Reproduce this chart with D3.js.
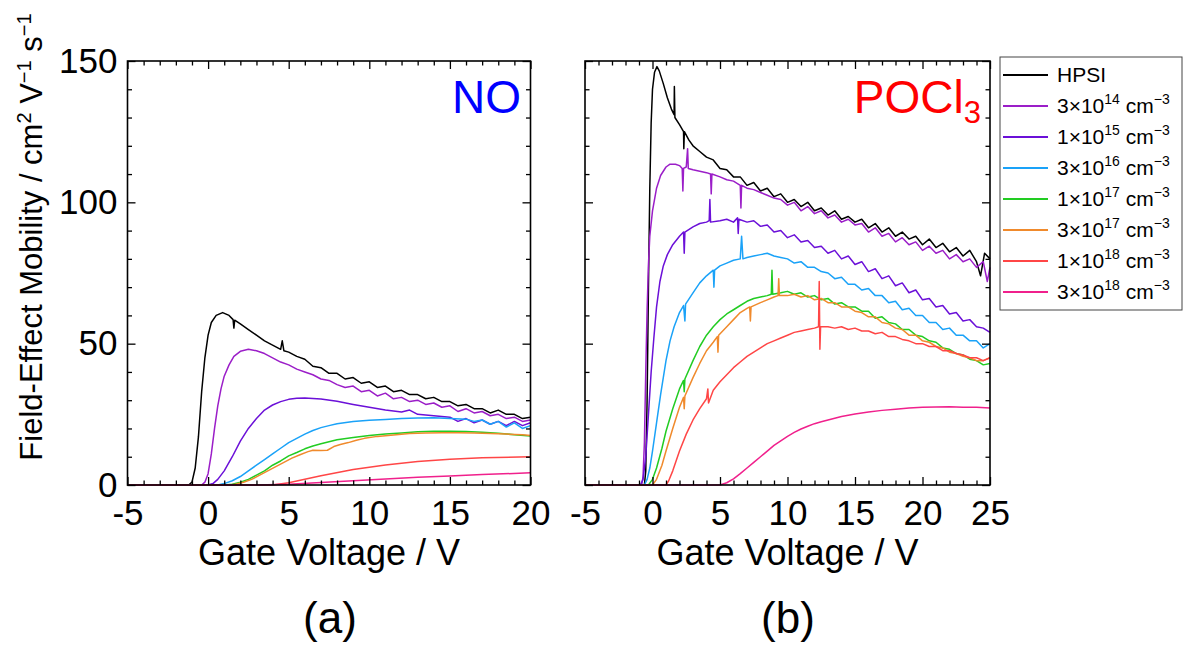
<!DOCTYPE html>
<html>
<head>
<meta charset="utf-8">
<title>mobility</title>
<style>
  body{margin:0;background:#fff;}
  text{font-family:"Liberation Sans",Arial,sans-serif;fill:#000;}
  .curve{fill:none;stroke-width:1.5;stroke-linejoin:round;}
  .axis path{display:none;}
  .axis line{stroke:#000;stroke-width:1.3;}
  .frame{fill:none;stroke:#000;stroke-width:1.6;}
</style>
<script src="https://d3js.org/d3.v7.min.js"></script>
</head>
<body>
<svg width="1187" height="648"></svg>
<script>

// legend entries (same order in both panels)
var legendBase = ["HPSI","3×10","1×10","3×10","1×10","3×10","1×10","3×10"];
var legendExp  = [null,"14","15","16","17","17","18","18"];
var colors = ["#000000","#9b1ec8","#6b10d8","#1aa2f8","#22cc22","#f08a2c","#ff4646","#f0208c"];

var yTicks = [0,50,100,150];

// (a) NO anneal: [gate voltage V, mobility]
var noHPSI = [[-5,0],[-1.2,0],[-1.0,1],[-0.8,6],[-0.6,17],[-0.4,33],[-0.2,45],[0,53],[0.2,57.5],[0.5,60],[0.9,61],[1.3,60],[1.55,58.5],[1.6,55.5],[1.65,58.3],[2,57],[2.5,55],[3,53],[3.5,51],[4,49.5],[4.5,48],[4.6,51],[4.7,47.5],[5,47],[5.5,45.5],[6,44.5],[6.5,42],[7,41.5],[7.5,39.5],[8,39.5],[8.5,37.5],[9,38],[9.5,36],[10,36.5],[10.5,34.5],[11,35],[11.5,33],[12,33.5],[12.5,32],[13,32],[13.5,30.5],[14,31],[14.5,29.5],[15,29.5],[15.5,28],[16,28.5],[16.5,27],[17,27],[17.5,25.5],[18,26.5],[18.5,25],[19,25],[19.5,23.5],[20,24]];
var no3e14 = [[-5,0],[-0.4,0],[-0.2,1],[0,4],[0.2,11],[0.4,20],[0.6,28],[0.8,34],[1,38.5],[1.3,42.5],[1.6,45.5],[2,47.3],[2.5,48],[3,47.5],[3.5,46.5],[4,45],[4.5,43.5],[5,42.5],[5.5,41],[6,40],[6.5,39],[7,37.5],[7.5,37],[8,35.5],[8.5,34.5],[9,35],[9.5,33],[10,33.5],[10.5,31.5],[11,32.5],[11.5,30.5],[12,31],[12.5,29.5],[13,30],[13.5,28.5],[14,29],[14.5,27.5],[15,28],[15.5,26],[16,27],[16.5,25.5],[17,26],[17.5,24.5],[18,25],[18.5,23.5],[19,24],[19.5,22.5],[20,23]];
var no1e15 = [[-5,0],[0,0],[0.3,0.5],[0.6,2],[1,5],[1.5,10],[2,15.5],[2.5,20],[3,23.5],[3.5,26.5],[4,28.3],[4.5,29.5],[5,30.3],[5.5,30.7],[6,30.8],[7,30.4],[8,29.6],[9,28.5],[10,27.5],[11,26.5],[12,25.8],[12.5,26.5],[13,25],[14,24.5],[15,24],[15.5,22.5],[16,23.5],[16.5,22],[17,23],[17.5,21.5],[18,22.5],[18.5,21],[19,22.5],[19.5,21],[20,22]];
var no3e16 = [[-5,0],[0.6,0],[1,0.5],[1.5,1.5],[2,3],[2.5,5],[3,7],[3.5,9],[4,11],[4.5,13],[5,15],[5.5,16.5],[6,18],[6.5,19.3],[7,20.3],[7.5,21],[8,21.7],[9,22.5],[10,22.9],[11,23.2],[12,23.5],[13,23.7],[14,23.8],[15,23.5],[16,23.3],[16.5,22.5],[17,23],[17.5,21.5],[18,22.5],[18.5,20.5],[19,22],[19.5,20],[20,21]];
var no1e17 = [[-5,0],[1,0],[1.5,0.3],[2,1],[2.5,2],[3,3.5],[3.5,5],[4,7],[4.5,8.5],[5,10.3],[5.5,11.5],[6,12.8],[6.5,13.8],[7,14.6],[7.5,15.3],[8,16],[9,16.8],[10,17.5],[11,18],[12,18.4],[13,18.8],[14,19],[15,19],[16,18.9],[17,18.7],[18,18.3],[19,17.8],[20,17.3]];
var no3e17 = [[-5,0],[1.2,0],[1.7,0.3],[2.2,1],[2.7,2],[3.2,3.5],[3.7,5],[4.2,6.5],[4.7,8],[5.2,9.5],[5.7,10.7],[6.2,11.8],[6.5,12.3],[7,12.2],[7.4,12.3],[7.8,13.6],[8.2,14.3],[8.7,15],[9.2,15.8],[9.7,16.5],[10.5,17.2],[11.5,17.7],[12.5,18.2],[13.5,18.4],[14.5,18.5],[15.5,18.5],[16.5,18.4],[17.5,18.2],[18.5,18],[19.5,17.8],[20,17.5]];
var no1e18 = [[-5,0],[4,0],[5,0.8],[7,3.3],[9,5.5],[11,7.1],[13,8.3],[15,9.1],[17,9.6],[20,10]];
var no3e18 = [[-5,0],[3,0],[5,0.3],[7,0.9],[9,1.5],[11,2.1],[13,2.7],[15,3.2],[17,3.7],[20,4.3]];

// (b) POCl3 anneal
var pHPSI = [[-5,0],[-0.6,0],[-0.5,5],[-0.4,30],[-0.3,70],[-0.2,105],[-0.1,128],[0,140],[0.15,146],[0.33,148],[0.5,146.5],[0.8,142],[1.1,137],[1.4,133],[1.6,131],[1.62,141],[1.66,130],[2,127.5],[2.3,125],[2.32,119],[2.36,125],[2.7,122],[3,120],[3.5,118],[4,116],[4.5,115],[5,112],[5.5,111.5],[6,109],[6.5,109],[7,106],[7.5,107],[8,104],[8.5,105],[9,102],[9.5,103],[10,100],[10.5,101],[11,98.5],[11.5,100],[12,97],[12.5,98],[13,95.5],[13.5,97],[14,94],[14.5,95],[15,93],[15.5,94],[16,91],[16.5,92.5],[17,89.5],[17.5,91],[18,88],[18.5,89.5],[19,87],[19.5,88],[20,85],[20.5,87],[21,84],[21.5,85.5],[22,82.5],[22.5,84],[23,81],[23.5,83],[24,79],[24.3,74],[24.6,82],[25,80]];
var p3e14 = [[-5,0],[-0.8,0],[-0.7,3],[-0.6,15],[-0.5,40],[-0.4,62],[-0.3,78],[-0.2,88],[0,97],[0.3,105],[0.6,109.5],[1,112.5],[1.3,113.5],[1.7,113.5],[2,113],[2.2,112],[2.25,104],[2.3,112],[2.5,112.5],[2.6,119],[2.65,112],[3,111.5],[3.5,111],[4,110.5],[4.3,110],[4.35,103],[4.4,110],[5,109],[5.5,108],[6,107.5],[6.5,106],[6.55,98],[6.6,106],[7,105],[7.5,104.5],[8,103.5],[8.5,102.5],[9,101.5],[9.5,101],[10,99],[10.5,100],[11,97],[11.5,98.5],[12,96],[12.5,97],[13,94.5],[13.5,95.5],[14,93],[14.5,94],[15,92],[15.5,92.5],[16,89.5],[16.5,91],[17,88],[17.5,89],[18,86],[18.5,87.5],[19,85],[19.5,86],[20,83],[20.5,84.5],[21,82],[21.5,83],[22,80],[22.5,81.5],[23,79],[23.5,80],[24,77],[24.5,79],[24.8,72],[25,77]];
var p1e15 = [[-5,0],[-0.9,0],[-0.7,2],[-0.5,10],[-0.3,25],[-0.1,40],[0.1,52],[0.3,63],[0.55,72],[0.8,77.5],[1.1,81.5],[1.5,85],[2,88],[2.3,89.5],[2.35,82],[2.4,89.5],[3,91.3],[3.5,92.5],[4,93],[4.2,93.5],[4.25,101],[4.3,93],[5,93.5],[5.5,94],[6,93],[6.3,94.5],[6.35,89],[6.4,94],[7,93],[7.5,93.5],[8,91.5],[8.5,92],[9,89.5],[9.5,90],[10,87.5],[10.5,88.5],[11,86],[11.5,86.5],[12,84],[12.5,84.5],[13,82],[13.5,83],[14,80],[14.5,81],[15,78],[15.5,79],[16,75.5],[16.5,76.5],[17,73],[17.5,74],[18,70.5],[18.5,71.5],[19,68],[19.5,69],[20,65.5],[20.5,66],[21,63],[21.5,63.5],[22,60.5],[22.5,61],[23,58],[23.5,58.5],[24,56],[24.5,55.5],[25,54]];
var p3e16 = [[-5,0],[-0.6,0],[-0.4,2],[-0.2,6],[0,12],[0.3,22],[0.6,32],[1,44],[1.3,51],[1.6,56],[2,61],[2.3,63.5],[2.4,58],[2.45,64],[3,68],[3.5,71.5],[4,74],[4.5,76],[4.55,70],[4.6,76],[5,77.5],[5.5,78.5],[6,79.5],[6.5,80],[6.6,88],[6.7,80],[7,80.5],[7.5,81],[8,81.5],[8.5,82],[9,81],[9.5,80.5],[10,80],[10.5,78.5],[11,79],[11.5,77],[12,77],[12.5,75.5],[13,75],[13.5,73],[14,73.5],[14.5,71],[15,71],[15.5,69],[16,69.5],[16.5,67],[17,67],[17.5,64.5],[18,65],[18.5,62],[19,62.5],[19.5,60],[20,60],[20.5,57.5],[21,57.5],[21.5,55],[22,55.5],[22.5,53],[23,53],[23.5,51],[24,51],[24.5,48.5],[25,50]];
var p1e17 = [[-5,0],[-0.3,0],[0,2],[0.3,6],[0.7,13],[1,19],[1.5,27],[2,34],[2.3,37],[2.35,33],[2.4,37.5],[3,44],[3.5,49],[4,53],[4.5,56],[5,58.5],[5.5,60.5],[6,62],[6.5,63.5],[7,65],[7.5,66],[8,66.5],[8.5,67],[8.8,67.5],[8.85,76],[8.9,67.5],[9.5,68],[10,68.5],[10.5,67.5],[11,68],[11.5,66.5],[12,67],[12.5,65.5],[13,66],[13.5,64],[14,64.5],[14.5,63],[15,63],[15.5,61.5],[16,61.5],[16.5,59],[17,59.5],[17.5,57.5],[18,57],[18.5,55],[19,55],[19.5,53],[20,52.5],[20.5,51],[21,50.5],[21.5,48.5],[22,48],[22.5,46.5],[23,46],[23.5,44.5],[24,44],[24.5,42.5],[25,43]];
var p3e17 = [[-5,0],[0,0],[0.3,2],[0.7,7],[1,12],[1.5,20],[2,27.5],[2.3,31],[2.35,27],[2.4,31.5],[3,38],[3.5,43],[4,47.5],[4.5,50.5],[4.8,52.5],[4.85,47],[4.9,53],[5.5,56],[6,58.5],[6.5,61],[7,62.5],[7.2,63],[7.25,58],[7.3,63],[8,64.5],[8.5,65.5],[9,66.5],[9.3,67],[9.35,73],[9.4,67],[10,67],[10.5,67.5],[11,66.5],[11.5,67],[12,65.5],[12.5,66],[13,64.5],[13.5,64.5],[14,63],[14.5,63],[15,61.5],[15.5,61],[16,59.5],[16.5,59.5],[17,57.5],[17.5,57],[18,55.5],[18.5,55],[19,53],[19.5,53],[20,51],[20.5,50.5],[21,49],[21.5,48.5],[22,47],[22.5,46.5],[23,45.5],[23.5,45],[24,44],[24.5,44],[25,45]];
var p1e18 = [[-5,0],[1,0],[1.2,1.5],[1.5,5],[2,12],[2.5,18],[3,23],[3.5,27],[4,30.5],[4.1,34],[4.15,29],[4.5,33.5],[5,36.5],[5.5,39],[6,41.5],[6.5,43.5],[7,45.5],[7.5,47],[8,48.5],[8.5,50],[9,51],[9.5,52],[10,53],[10.5,54],[11,54.5],[11.5,55],[12,55.5],[12.3,56],[12.35,72],[12.4,48],[12.45,56],[13,56],[13.5,55.5],[14,56],[14.5,55],[15,55.5],[15.5,54.5],[16,54.5],[16.5,53.5],[17,54],[17.5,52.5],[18,52.5],[18.5,51.5],[19,51],[19.5,50],[20,50],[20.5,49],[21,49],[21.5,47.5],[22,47.5],[22.5,46.5],[23,46],[23.5,45],[24,45],[24.5,44],[25,45]];
var p3e18 = [[-5,0],[5,0],[5.5,0.8],[6,2.2],[6.5,4],[7,6],[7.5,8],[8,10],[8.5,12],[9,14],[9.5,15.6],[10,17.2],[10.5,18.6],[11,19.8],[11.5,20.8],[12,21.7],[12.5,22.4],[13,23],[14,24.2],[15,25.1],[16,25.8],[17,26.4],[18,26.8],[19,27.2],[20,27.5],[21,27.6],[22,27.7],[23,27.5],[24,27.5],[25,27.2]];


var svg = d3.select("svg");

var y  = d3.scaleLinear().domain([0,150]).range([485,61]);
var xa = d3.scaleLinear().domain([-5,20]).range([127.5,530.5]);
var xb = d3.scaleLinear().domain([-5,25]).range([585,990]);

var yMinor = d3.range(0,151,10).filter(function(v){return v%50!==0;});

function drawPanel(x, curves, showY){
    var g = svg.append("g");
    var x0 = x.range()[0], x1 = x.range()[1],
        yb = y.range()[0], yt = y.range()[1];

    var line = d3.line()
        .x(function(d){return x(d[0]);})
        .y(function(d){return y(d[1]);});

    g.selectAll(".curve")
        .data(curves)
        .enter().append("path")
        .attr("class","curve")
        .attr("stroke",function(d,i){return colors[i];})
        .attr("d",line);

    var xMajor = d3.range(x.domain()[0], x.domain()[1]+0.1, 5),
        xMinor = d3.range(x.domain()[0], x.domain()[1]+0.1, 1).filter(function(v){return v%5!==0;});

    // bottom
    g.append("g").attr("class","axis")
        .attr("transform","translate(0,"+yb+")")
        .call(d3.axisBottom(x).tickValues(xMajor).tickSize(-8).tickPadding(15)
            .tickFormat(function(d){return String(d);}))
        .attr("font-size",35);
    g.append("g").attr("class","axis")
        .attr("transform","translate(0,"+yb+")")
        .call(d3.axisBottom(x).tickValues(xMinor).tickSize(-4.5).tickFormat(""));
    // top
    g.append("g").attr("class","axis")
        .attr("transform","translate(0,"+yt+")")
        .call(d3.axisTop(x).tickValues(xMajor).tickSize(-8).tickFormat(""));
    g.append("g").attr("class","axis")
        .attr("transform","translate(0,"+yt+")")
        .call(d3.axisTop(x).tickValues(xMinor).tickSize(-4.5).tickFormat(""));
    // left
    g.append("g").attr("class","axis")
        .attr("transform","translate("+x0+",0)")
        .call(d3.axisLeft(y).tickValues(yTicks).tickSize(-8).tickPadding(10)
            .tickFormat(showY ? function(d){return String(d);} : ""))
        .attr("font-size",35);
    g.append("g").attr("class","axis")
        .attr("transform","translate("+x0+",0)")
        .call(d3.axisLeft(y).tickValues(yMinor).tickSize(-4.5).tickFormat(""));
    // right
    g.append("g").attr("class","axis")
        .attr("transform","translate("+x1+",0)")
        .call(d3.axisRight(y).tickValues(yTicks).tickSize(-8).tickFormat(""));
    g.append("g").attr("class","axis")
        .attr("transform","translate("+x1+",0)")
        .call(d3.axisRight(y).tickValues(yMinor).tickSize(-4.5).tickFormat(""));

    g.append("rect").attr("class","frame")
        .attr("x",x0).attr("y",yt)
        .attr("width",x1-x0).attr("height",yb-yt);

    g.append("text")
        .attr("x",(x0+x1)/2).attr("y",565)
        .attr("text-anchor","middle")
        .attr("font-size",36)
        .text("Gate Voltage / V");
    return g;
}

var ga = drawPanel(xa, [noHPSI,no3e14,no1e15,no3e16,no1e17,no3e17,no1e18,no3e18], true);
var gb = drawPanel(xb, [pHPSI,p3e14,p1e15,p3e16,p1e17,p3e17,p1e18,p3e18], false);

ga.append("text").attr("x",521).attr("y",113)
    .attr("text-anchor","end").attr("font-size",46)
    .style("fill","#0000ff").text("NO");

var poc = gb.append("text").attr("x",981).attr("y",113)
    .attr("text-anchor","end").attr("font-size",46)
    .style("fill","#ff0000");
poc.append("tspan").text("POCl");
poc.append("tspan").attr("font-size",31).attr("dy",10).text("3");

svg.append("text").attr("x",330).attr("y",633)
    .attr("text-anchor","middle").attr("font-size",44).text("(a)");
svg.append("text").attr("x",788).attr("y",633)
    .attr("text-anchor","middle").attr("font-size",44).text("(b)");

// y label
var yl = svg.append("text")
    .attr("transform","translate(42,237) rotate(-90)")
    .attr("text-anchor","middle")
    .attr("font-size",31);
yl.append("tspan").text("Field-Effect Mobility / cm");
yl.append("tspan").attr("font-size",20).attr("dy",-11).text("2");
yl.append("tspan").attr("dy",11).text(" V");
yl.append("tspan").attr("font-size",20).attr("dy",-11).text("\u22121");
yl.append("tspan").attr("dy",11).text(" s");
yl.append("tspan").attr("font-size",20).attr("dy",-11).text("\u22121");

// legend
var leg = svg.append("g");
leg.append("rect")
    .attr("x",1000).attr("y",57).attr("width",182).attr("height",253)
    .attr("fill","#fff").attr("stroke","#444").attr("stroke-width",1);

var rows = leg.selectAll(".row")
    .data(legendBase)
    .enter().append("g")
    .attr("class","row")
    .attr("transform",function(d,i){return "translate(0,"+(75+i*31)+")";});

rows.append("line")
    .attr("x1",1003).attr("x2",1048)
    .attr("stroke",function(d,i){return colors[i];})
    .attr("stroke-width",2);

rows.each(function(d,i){
    var t = d3.select(this).append("text")
        .attr("x",1057).attr("y",7).attr("font-size",21);
    t.append("tspan").text(d);
    if(legendExp[i]){
        t.append("tspan").attr("font-size",14).attr("dy",-9).text(legendExp[i]);
        t.append("tspan").attr("dy",9).text(" cm");
        t.append("tspan").attr("font-size",14).attr("dy",-9).text("\u22123");
    }
});

</script>
</body>
</html>
